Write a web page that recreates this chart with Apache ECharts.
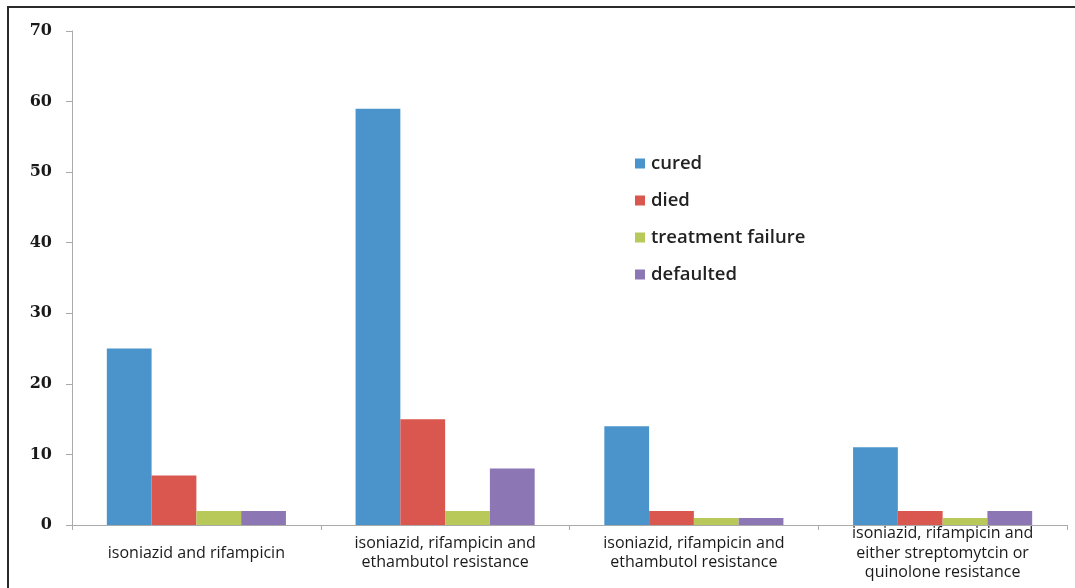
<!DOCTYPE html>
<html>
<head>
<meta charset="utf-8">
<script src="https://cdn.jsdelivr.net/npm/echarts@6/dist/echarts.min.js"></script>
<style>
  html, body { margin: 0; padding: 0; background: #fff; }
  #main { width: 1075px; height: 588px; }
</style>
</head>
<body>
<div id="main"></div>
<script>
// resistance groups (x axis), line breaks as in the original labels
var categories = [
  'isoniazid and rifampicin',
  'isoniazid, rifampicin and\nethambutol resistance',
  'isoniazid, rifampicin and\nethambutol resistance',
  'isoniazid, rifampicin and\neither streptomytcin or\nquinolone resistance'
];
var seriesNames = ['cured', 'died', 'treatment failure', 'defaulted'];
var cured = [25, 59, 14, 11];
var died = [7, 15, 2, 2];
var treatmentFailure = [2, 2, 1, 1];
var defaulted = [2, 8, 1, 2];
var colors = ['#4a94cb', '#d9574f', '#b8c95a', '#8c76b3'];

var values = [cured, died, treatmentFailure, defaulted];

var myChart = echarts.init(document.getElementById('main'));

var series = [];
for (var i = 0; i < seriesNames.length; i++) {
  series.push({
    name: seriesNames[i],
    type: 'bar',
    data: values[i],
    barGap: '0%',
    barCategoryGap: '28%',
    itemStyle: { color: colors[i] }
  });
}

myChart.setOption({
  animation: false,
  color: colors,
  graphic: [{
    type: 'rect',
    shape: { x: 8, y: 7, width: 1200, height: 700 },
    style: { fill: 'none', stroke: '#2a2a2a', lineWidth: 2 },
    silent: true
  }],
  grid: { left: 72, right: 8, top: 31, bottom: 63, outerBoundsMode: 'none' },
  legend: {
    orient: 'vertical',
    left: 630,
    top: 149,
    itemWidth: 10,
    itemHeight: 10,
    itemGap: 18,
    icon: 'rect',
    textStyle: {
      fontFamily: 'Open Sans',
      fontSize: 18.5,
      fontWeight: 600,
      color: '#222',
      padding: [0, 0, 0, 1]
    },
    data: seriesNames
  },
  xAxis: {
    type: 'category',
    data: categories,
    axisLine: { lineStyle: { color: '#aaa', width: 1 } },
    axisTick: { show: true, length: 5, lineStyle: { color: '#aaa' } },
    axisLabel: {
      interval: 0,
      margin: 28,
      verticalAlign: 'middle',
      lineHeight: 19.5,
      fontFamily: 'Open Sans',
      fontSize: 16,
      color: '#1a1a1a'
    }
  },
  yAxis: {
    type: 'value',
    min: 0,
    max: 70,
    interval: 10,
    splitLine: { show: false },
    axisLine: { show: true, lineStyle: { color: '#aaa', width: 1 } },
    axisTick: { show: true, length: 6, lineStyle: { color: '#aaa' } },
    axisLabel: {
      margin: 20,
      fontFamily: 'DejaVu Serif',
      fontWeight: 'bold',
      fontSize: 16,
      color: '#1a1a1a'
    }
  },
  series: series
});
</script>
</body>
</html>
